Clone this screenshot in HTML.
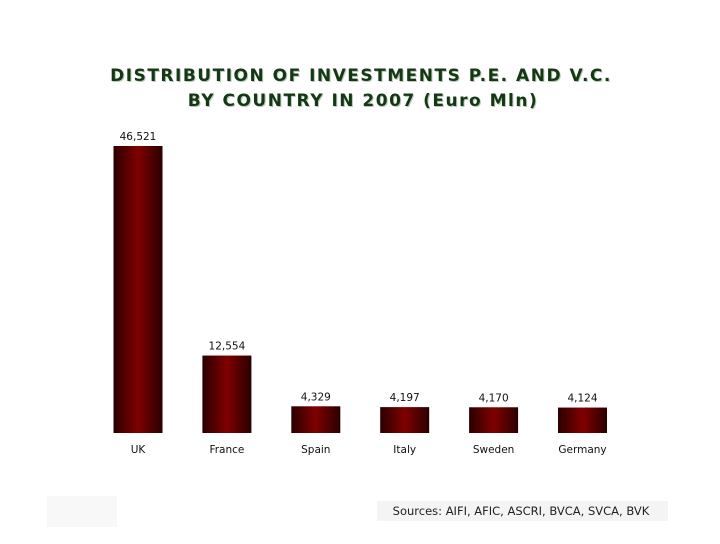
<!DOCTYPE html>
<html><head><meta charset="utf-8"><style>
body{margin:0;width:720px;height:540px;background:#fff;overflow:hidden;font-family:"DejaVu Sans","Liberation Sans",sans-serif}
</style></head><body>
<svg width="720" height="540">
<defs><linearGradient id="g" x1="0" x2="1" y1="0" y2="0">
<stop offset="0" stop-color="#2a0000"/><stop offset="0.5" stop-color="#800000"/><stop offset="1" stop-color="#2a0000"/></linearGradient></defs>
<g font-weight="bold" font-size="17" letter-spacing="1.5" text-anchor="middle">
<text x="362" y="82" fill="#b8c8b8">DISTRIBUTION OF INVESTMENTS P.E. AND V.C.</text>
<text x="361" y="81" fill="#143814">DISTRIBUTION OF INVESTMENTS P.E. AND V.C.</text>
<text x="364" y="107" fill="#b8c8b8">BY COUNTRY IN 2007 (Euro Mln)</text>
<text x="363" y="106" fill="#143814">BY COUNTRY IN 2007 (Euro Mln)</text>
</g>
<g id="bars"></g>
<rect x="47" y="496" width="70" height="31" fill="#f8f8f8"/>
<rect x="377" y="501" width="291" height="20" fill="#f4f4f4"/>
<text x="521" y="515" font-size="11.5" fill="#222" text-anchor="middle">Sources: AIFI, AFIC, ASCRI, BVCA, SVCA, BVK</text>
</svg>
<script>
const categories=["UK","France","Spain","Italy","Sweden","Germany"];
const values=[46521,12554,4329,4197,4170,4124];
const labels=["46,521","12,554","4,329","4,197","4,170","4,124"];
const ns="http://www.w3.org/2000/svg";
const g=document.getElementById("bars");
const base=433,scale=287/46521,x0=138,step=88.9,bw=49;
const xs=i=>x0+i*step, ys=v=>base-v*scale;
categories.forEach((c,i)=>{
 const r=document.createElementNS(ns,"rect");
 r.setAttribute("x",xs(i)-bw/2);r.setAttribute("y",ys(values[i]));
 r.setAttribute("width",bw);r.setAttribute("height",base-ys(values[i]));r.setAttribute("fill","url(#g)");
 
 
 g.appendChild(r);
 const t=document.createElementNS(ns,"text");
 t.setAttribute("x",xs(i));t.setAttribute("y",ys(values[i])-6);t.setAttribute("font-size","10.5");
 t.setAttribute("text-anchor","middle");t.setAttribute("fill","#111");t.textContent=labels[i];
 
 
 g.appendChild(t);
 const l=document.createElementNS(ns,"text");
 l.setAttribute("x",xs(i));l.setAttribute("y",453);l.setAttribute("font-size","10.5");
 l.setAttribute("text-anchor","middle");l.setAttribute("fill","#111");l.textContent=c;
 
 
 g.appendChild(l);
});
</script>
</body></html>
